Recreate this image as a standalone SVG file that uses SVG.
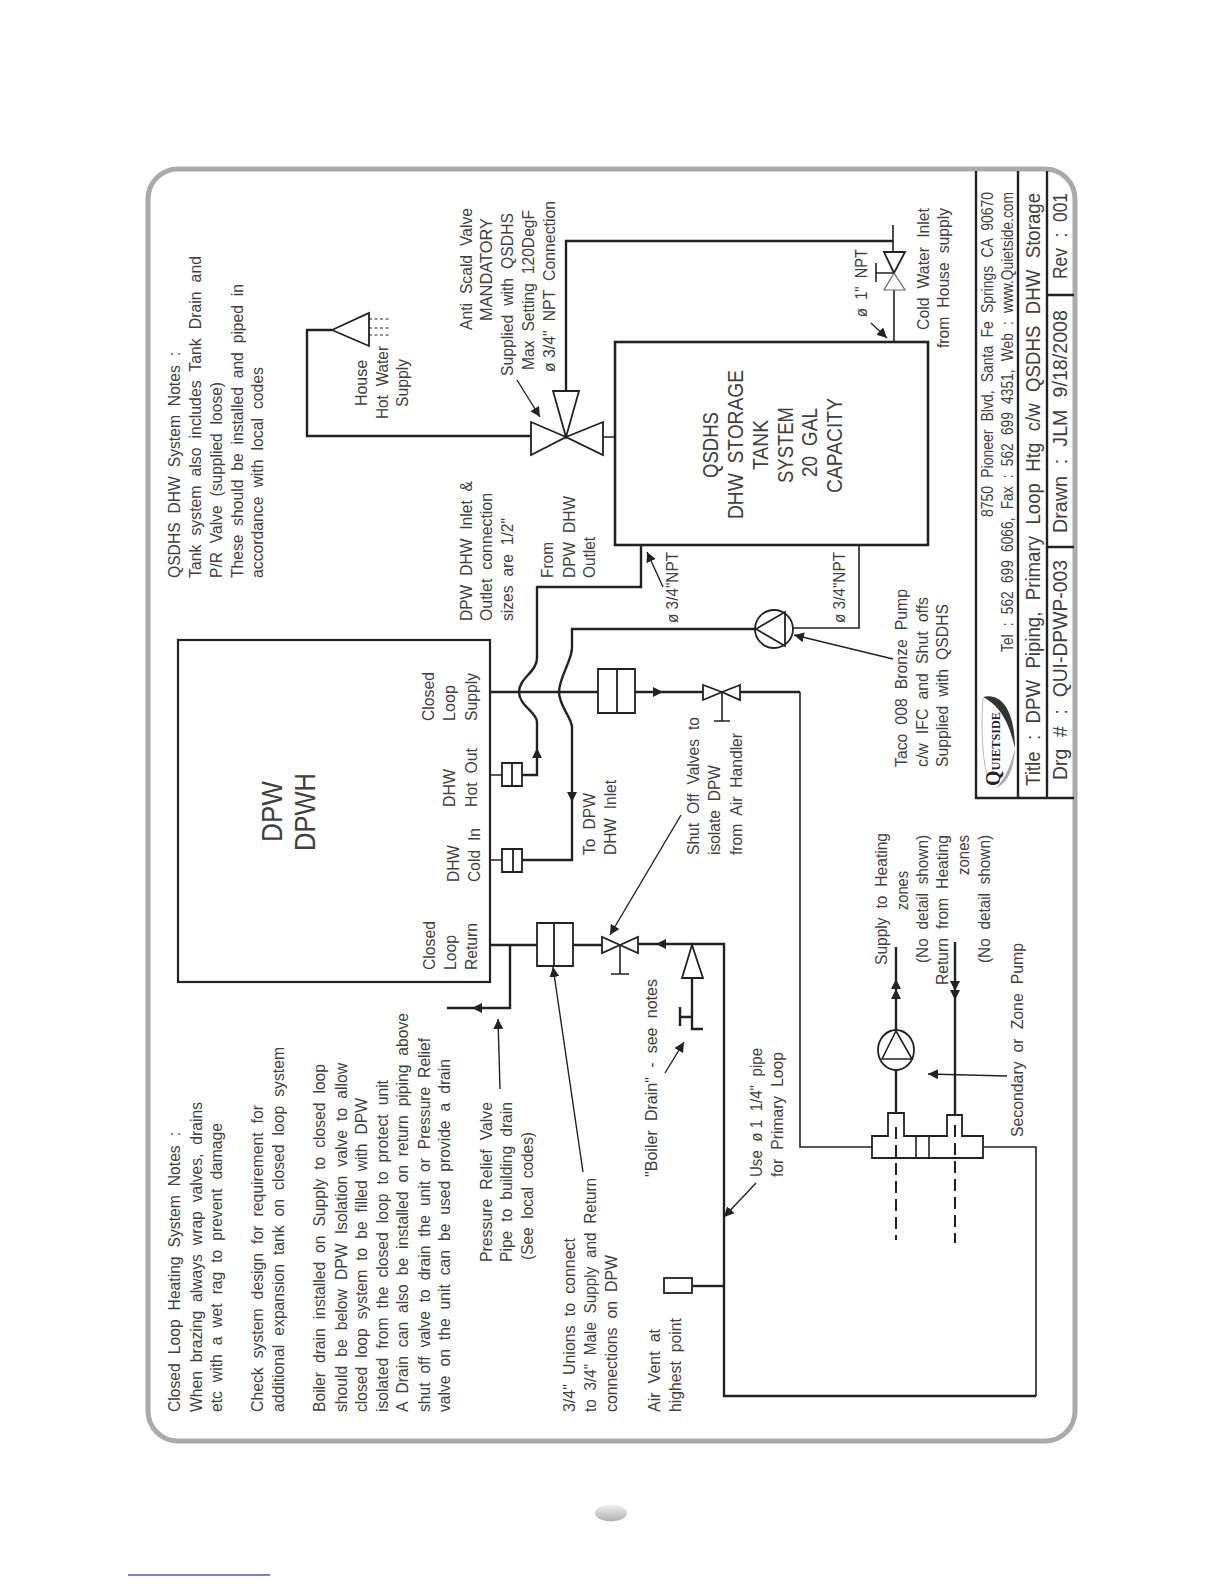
<svg xmlns="http://www.w3.org/2000/svg" width="1224" height="1584" viewBox="0 0 1224 1584">
<style>
text{font-family:"Liberation Sans",Arial,sans-serif;font-size:17px;word-spacing:5px;fill:#404040}
.big{font-size:21px;word-spacing:7px}.tk{font-size:22px}.dp{font-size:30px}.sm{font-size:16px}.ns{word-spacing:0}
.logo{font-family:"Liberation Serif",serif;font-size:13px;font-weight:bold;fill:#222;word-spacing:0}
.p{fill:none;stroke:#222;stroke-width:2.4}
.t{fill:none;stroke:#222;stroke-width:1.6}
.v{fill:#fff;stroke:#222;stroke-width:1.8}
.l{fill:none;stroke:#222;stroke-width:1.4;marker-end:url(#a)}
.f{fill:none;stroke:#222;stroke-width:2;marker-end:url(#a)}
.d{fill:none;stroke:#222;stroke-width:2;stroke-dasharray:12 6}
</style>
<defs>
<marker id="a" markerUnits="userSpaceOnUse" markerWidth="11" markerHeight="12" refX="10" refY="6" orient="auto"><path d="M0 1 L10 6 L0 11 Z" fill="#222"/></marker>
<linearGradient id="ov" x1="0" y1="0" x2="0" y2="1"><stop offset="0" stop-color="#f2f2f2"/><stop offset="1" stop-color="#b0b0b0"/></linearGradient>
</defs>
<rect id="frame" x="148" y="169" width="927" height="1272" rx="30" fill="#fff" stroke="#aaa" stroke-width="5"/>
<ellipse id="page-mark" cx="611" cy="1513" rx="16" ry="8.5" fill="url(#ov)"/>
<path id="rule" d="M128 1575H270" stroke="#0000a0" stroke-width="1" fill="none"/>

<g id="connectors">
<path class="p" d="M332 330H307V436H531"/>
<path class="p" d="M566 391V241H893"/>
<path class="t" d="M893 225V252M603 437H615M894 290V342"/>
<path class="p" d="M641 545V587H537V658C537 672 519 678 519 692C519 706 537 712 537 722V775H522"/>
<path class="p" d="M756 629H572V648C572 660 559 678 559 692C559 706 572 718 572 727V860H522"/>
<path class="t" d="M793 628H859V545M490 775H502M490 860H502"/>
<path class="p" d="M490 692H598M635 692H703M740 692H800"/>
<path class="t" d="M800 692V1147H872M983 1147H1036V1396"/>
<path class="p" d="M1036 1396H724V944H638M602 945H573M537 945H490M510 945V1008H447"/>
<path class="p" d="M692 978V1029H703M692 1017H680M680 1007V1026"/>
<path class="p" d="M896 1113V1070M896 1031V947M955 1115V942"/>
<path class="d" d="M896 1127V1240M955 1125V1243"/>
<path class="p" d="M692 1286H724"/>
<path class="f" d="M537 765V748"/>
<path class="f" d="M572 785V802"/>
<path class="f" d="M650 692H663"/>
<path class="f" d="M670 944H656"/>
<path class="f" d="M490 1008H472"/>
<path class="f" d="M896 995V979"/>
<path class="f" d="M896 1005V989"/>
<path class="f" d="M955 975V991"/>
<path class="f" d="M955 985V1000"/>
<path class="l" d="M517 380L540 417"/>
<path class="l" d="M871 323L887 338"/>
<path class="l" d="M663 587L647 552"/>
<path class="l" d="M893 659L794 635"/>
<path class="l" d="M681 815L610 935"/>
<path class="l" d="M1007 1076L928 1074"/>
<path class="l" d="M665 1073L684 1042"/>
<path class="l" d="M756 1183L724 1217"/>
<path class="l" d="M500 1089L498 1019"/>
<path class="l" d="M583 1172L553 967"/>
</g>

<g id="dpw-unit">
<rect x="178" y="640" width="312" height="342" fill="none" stroke="#222" stroke-width="2.2"/>
<g transform="rotate(-90)">
<text class="dp" x="-842" y="282" textLength="61" lengthAdjust="spacingAndGlyphs">DPW</text>
<text class="dp" x="-851" y="315" textLength="78" lengthAdjust="spacingAndGlyphs">DPWH</text>
<text x="-721" y="434" textLength="49" lengthAdjust="spacingAndGlyphs">Closed</text>
<text x="-721" y="455" textLength="36" lengthAdjust="spacingAndGlyphs">Loop</text>
<text x="-721" y="477" textLength="48" lengthAdjust="spacingAndGlyphs">Supply</text>
<text x="-807" y="455" textLength="38" lengthAdjust="spacingAndGlyphs">DHW</text>
<text x="-807" y="477" textLength="59" lengthAdjust="spacingAndGlyphs">Hot Out</text>
<text x="-882" y="459" textLength="37" lengthAdjust="spacingAndGlyphs">DHW</text>
<text x="-882" y="480" textLength="54" lengthAdjust="spacingAndGlyphs">Cold In</text>
<text x="-970" y="435" textLength="49" lengthAdjust="spacingAndGlyphs">Closed</text>
<text x="-970" y="456" textLength="35" lengthAdjust="spacingAndGlyphs">Loop</text>
<text x="-970" y="477" textLength="47" lengthAdjust="spacingAndGlyphs">Return</text>
</g>
</g>

<g id="qsdhs-tank">
<rect x="615" y="342" width="313" height="203" fill="#fff" stroke="#222" stroke-width="2.6"/>
<g transform="rotate(-90)">
<text class="tk" x="-478" y="718" textLength="66" lengthAdjust="spacingAndGlyphs">QSDHS</text>
<text class="tk" x="-519" y="743" textLength="149" lengthAdjust="spacingAndGlyphs">DHW STORAGE</text>
<text class="tk" x="-470" y="768" textLength="50" lengthAdjust="spacingAndGlyphs">TANK</text>
<text class="tk" x="-483" y="793" textLength="76" lengthAdjust="spacingAndGlyphs">SYSTEM</text>
<text class="tk" x="-477" y="817" textLength="69" lengthAdjust="spacingAndGlyphs">20 GAL</text>
<text class="tk" x="-493" y="842" textLength="95" lengthAdjust="spacingAndGlyphs">CAPACITY</text>
</g>
</g>

<g id="shower-head">
<path class="v" d="M332 330L369 313V346Z"/>
<path d="M369 319H391M369 328H391M369 335H391" stroke="#222" stroke-width="1" stroke-dasharray="3 2.5" fill="none"/>
</g>
<g id="anti-scald-valve">
<path class="v" d="M566 437L531 422V455ZM566 437L603 422V455ZM566 437L553 391H579Z"/>
</g>
<g id="cold-inlet-valve">
<path class="v" d="M894 273L884 252H905Z"/>
<path d="M894 273L884 290H905Z" fill="#fff" stroke="#666" stroke-width="1.2"/>
<path class="t" d="M894 273H876M876 263V282"/>
</g>
<g id="union-hot-out"><path class="v" d="M502 763H522V786H502ZM512 763V786"/></g>
<g id="union-cold-in"><path class="v" d="M502 849H522V872H502ZM513 849V872"/></g>
<g id="union-supply"><path class="v" d="M598 669H635V713H598ZM617 669V713"/></g>
<g id="union-return"><path class="v" d="M537 923H573V966H537ZM554 923V966"/></g>
<g id="valve-supply">
<path class="v" d="M722 692L703 685V700ZM722 692L740 685V700Z"/>
<path class="t" d="M722 692V721M714 721H730"/>
</g>
<g id="valve-return">
<path class="v" d="M620 945L602 937V953ZM620 945L638 937V953Z"/>
<path class="t" d="M620 945V974M611 974H629"/>
</g>
<g id="boiler-drain"><path class="v" d="M692 945L682 978H703Z"/></g>
<g id="pump-dhw">
<circle class="v" cx="774" cy="629" r="19"/>
<path class="v" fill="none" d="M756 629L785 612V646Z"/>
</g>
<g id="pump-zone">
<ellipse class="v" cx="896" cy="1050" rx="18" ry="20"/>
<path class="t" d="M896 1031L882 1059H912Z"/>
</g>
<g id="manifold">
<path class="v" d="M872 1136H888V1113H904V1136H947V1115H962V1136H983V1158H872Z"/>
<path class="t" d="M916 1136V1158M929 1136V1158"/>
<path class="d" d="M896 1127V1158M955 1125V1158"/>
</g>
<g id="air-vent"><rect class="v" x="664" y="1278" width="28" height="15"/></g>

<g id="title-block">
<path class="p" d="M976 171V798H1074M1018 171V798M1047 171V798M1047 295H1074M1047 547H1074"/>
<path d="M983 697C1002 692 1015 712 1015 748C1009 722 1000 706 983 697Z" fill="#333"/>
<path d="M1015 748C1014 770 1007 784 996 788C1004 780 1011 766 1015 748Z" fill="#aaa"/>
<path d="M983 698C981 725 982 760 988 778" fill="none" stroke="#bbb" stroke-width="1"/>
<g transform="rotate(-90)">
<text class="logo" x="-786" y="1000" textLength="74" lengthAdjust="spacingAndGlyphs"><tspan font-size="21">Q</tspan>UIETSIDE</text>
<text class="sm" x="-517" y="993" textLength="325" lengthAdjust="spacingAndGlyphs">8750 Pioneer Blvd, Santa Fe Springs CA 90670</text>
<text class="sm" x="-652" y="1013" textLength="460" lengthAdjust="spacingAndGlyphs">Tel : 562 699 6066, Fax : 562 699 4351, Web : www.Quietside.com</text>
<text class="big" x="-786" y="1040" textLength="593" lengthAdjust="spacingAndGlyphs">Title : DPW Piping, Primary Loop Htg c/w QSDHS DHW Storage</text>
<text class="big" x="-780" y="1067" textLength="220" lengthAdjust="spacingAndGlyphs">Drg # : QUI-DPWP-003</text>
<text class="big" x="-533" y="1067" textLength="223" lengthAdjust="spacingAndGlyphs">Drawn : JLM 9/18/2008</text>
<text class="big" x="-279" y="1067" textLength="86" lengthAdjust="spacingAndGlyphs">Rev : 001</text>
</g>
</g>

<g id="labels" transform="rotate(-90)">
<text x="-578" y="180" textLength="226" lengthAdjust="spacingAndGlyphs">QSDHS DHW System Notes :</text>
<text x="-578" y="201" textLength="322" lengthAdjust="spacingAndGlyphs">Tank system also includes Tank Drain and</text>
<text x="-578" y="222" textLength="196" lengthAdjust="spacingAndGlyphs">P/R Valve (supplied loose)</text>
<text x="-578" y="243" textLength="294" lengthAdjust="spacingAndGlyphs">These should be installed and piped in</text>
<text x="-578" y="263" textLength="211" lengthAdjust="spacingAndGlyphs">accordance with local codes</text>
<text x="-406" y="367" textLength="46" lengthAdjust="spacingAndGlyphs">House</text>
<text x="-419" y="388" textLength="73" lengthAdjust="spacingAndGlyphs">Hot Water</text>
<text x="-407" y="408" textLength="48" lengthAdjust="spacingAndGlyphs">Supply</text>
<text x="-330" y="472" textLength="122" lengthAdjust="spacingAndGlyphs">Anti Scald Valve</text>
<text x="-321" y="492" textLength="103" lengthAdjust="spacingAndGlyphs">MANDATORY</text>
<text x="-376" y="513" textLength="163" lengthAdjust="spacingAndGlyphs">Supplied with QSDHS</text>
<text x="-370" y="534" textLength="160" lengthAdjust="spacingAndGlyphs">Max Setting 120DegF</text>
<text x="-372" y="555" textLength="171" lengthAdjust="spacingAndGlyphs"><tspan word-spacing="0">ø </tspan>3/4" NPT Connection</text>
<text x="-621" y="472" textLength="140" lengthAdjust="spacingAndGlyphs">DPW DHW Inlet &amp;</text>
<text x="-621" y="492" textLength="128" lengthAdjust="spacingAndGlyphs">Outlet connection</text>
<text x="-621" y="513" textLength="103" lengthAdjust="spacingAndGlyphs">sizes are 1/2"</text>
<text x="-578" y="553" textLength="36" lengthAdjust="spacingAndGlyphs">From</text>
<text x="-578" y="575" textLength="82" lengthAdjust="spacingAndGlyphs">DPW DHW</text>
<text x="-578" y="595" textLength="41" lengthAdjust="spacingAndGlyphs">Outlet</text>
<text x="-330" y="929" textLength="122" lengthAdjust="spacingAndGlyphs">Cold Water Inlet</text>
<text x="-348" y="949" textLength="140" lengthAdjust="spacingAndGlyphs">from House supply</text>
<text x="-317" y="867" textLength="68" lengthAdjust="spacingAndGlyphs">ø 1" NPT</text>
<text class="ns" x="-623" y="678" textLength="71" lengthAdjust="spacingAndGlyphs">ø 3/4"NPT</text>
<text class="ns" x="-623" y="845" textLength="71" lengthAdjust="spacingAndGlyphs">ø 3/4"NPT</text>
<text x="-855" y="595" textLength="62" lengthAdjust="spacingAndGlyphs">To DPW</text>
<text x="-855" y="616" textLength="75" lengthAdjust="spacingAndGlyphs">DHW Inlet</text>
<text x="-855" y="699" textLength="138" lengthAdjust="spacingAndGlyphs">Shut Off Valves to</text>
<text x="-855" y="720" textLength="90" lengthAdjust="spacingAndGlyphs">isolate DPW</text>
<text x="-855" y="742" textLength="122" lengthAdjust="spacingAndGlyphs">from Air Handler</text>
<text x="-767" y="907" textLength="178" lengthAdjust="spacingAndGlyphs">Taco 008 Bronze Pump</text>
<text x="-767" y="928" textLength="170" lengthAdjust="spacingAndGlyphs">c/w IFC and Shut offs</text>
<text x="-767" y="948" textLength="163" lengthAdjust="spacingAndGlyphs">Supplied with QSDHS</text>
<text x="-965" y="887" textLength="132" lengthAdjust="spacingAndGlyphs">Supply to Heating</text>
<text x="-910" y="908" textLength="39" lengthAdjust="spacingAndGlyphs">zones</text>
<text x="-963" y="928" textLength="128" lengthAdjust="spacingAndGlyphs">(No detail shown)</text>
<text x="-985" y="948" textLength="150" lengthAdjust="spacingAndGlyphs">Return from Heating</text>
<text x="-875" y="969" textLength="40" lengthAdjust="spacingAndGlyphs">zones</text>
<text x="-963" y="990" textLength="128" lengthAdjust="spacingAndGlyphs">(No detail shown)</text>
<text x="-1137" y="1023" textLength="194" lengthAdjust="spacingAndGlyphs">Secondary or Zone Pump</text>
<text x="-1177" y="657" textLength="198" lengthAdjust="spacingAndGlyphs">"Boiler Drain" - see notes</text>
<text x="-1177" y="762" textLength="129" lengthAdjust="spacingAndGlyphs">Use <tspan word-spacing="0">ø </tspan>1 1/4" pipe</text>
<text x="-1177" y="783" textLength="125" lengthAdjust="spacingAndGlyphs">for Primary Loop</text>
<text x="-1412" y="180" textLength="280" lengthAdjust="spacingAndGlyphs">Closed Loop Heating System Notes :</text>
<text x="-1412" y="202" textLength="310" lengthAdjust="spacingAndGlyphs">When brazing always wrap valves, drains</text>
<text x="-1412" y="222" textLength="289" lengthAdjust="spacingAndGlyphs">etc with a wet rag to prevent damage</text>
<text x="-1412" y="263" textLength="307" lengthAdjust="spacingAndGlyphs">Check system design for requirement for</text>
<text x="-1412" y="284" textLength="365" lengthAdjust="spacingAndGlyphs">additional expansion tank on closed loop system</text>
<text x="-1412" y="325" textLength="348" lengthAdjust="spacingAndGlyphs">Boiler drain installed on Supply to closed loop</text>
<text x="-1412" y="347" textLength="349" lengthAdjust="spacingAndGlyphs">should be below DPW Isolation valve to allow</text>
<text x="-1412" y="367" textLength="314" lengthAdjust="spacingAndGlyphs">closed loop system to be filled with DPW</text>
<text x="-1412" y="388" textLength="332" lengthAdjust="spacingAndGlyphs">isolated from the closed loop to protect unit</text>
<text x="-1412" y="408" textLength="399" lengthAdjust="spacingAndGlyphs">A Drain can also be installed on return piping above</text>
<text x="-1412" y="430" textLength="374" lengthAdjust="spacingAndGlyphs">shut off valve to drain the unit or Pressure Relief</text>
<text x="-1412" y="450" textLength="353" lengthAdjust="spacingAndGlyphs">valve on the unit can be used provide a drain</text>
<text x="-1262" y="492" textLength="160" lengthAdjust="spacingAndGlyphs">Pressure Relief Valve</text>
<text x="-1262" y="512" textLength="160" lengthAdjust="spacingAndGlyphs">Pipe to building drain</text>
<text x="-1260" y="533" textLength="128" lengthAdjust="spacingAndGlyphs">(See local codes)</text>
<text x="-1412" y="575" textLength="174" lengthAdjust="spacingAndGlyphs">3/4" Unions to connect</text>
<text x="-1412" y="596" textLength="234" lengthAdjust="spacingAndGlyphs">to 3/4" Male Supply and Return</text>
<text x="-1412" y="617" textLength="157" lengthAdjust="spacingAndGlyphs">connections on DPW</text>
<text x="-1412" y="660" textLength="83" lengthAdjust="spacingAndGlyphs">Air Vent at</text>
<text x="-1412" y="681" textLength="94" lengthAdjust="spacingAndGlyphs">highest point</text>
</g>
</svg>
